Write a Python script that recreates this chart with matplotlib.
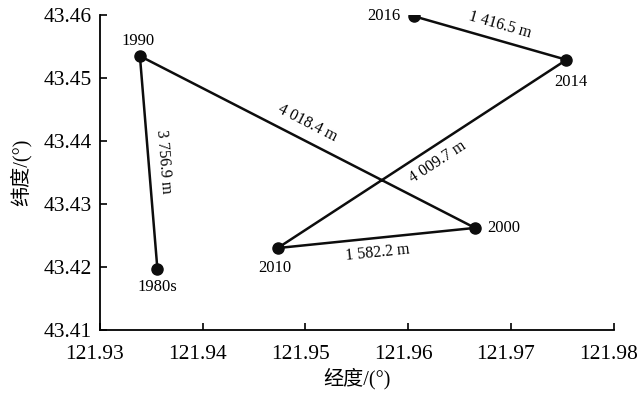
import numpy as np
import matplotlib
matplotlib.use("Agg")
import matplotlib.pyplot as plt
from matplotlib.transforms import ScaledTranslation

plt.rcParams['font.family'] = ['Liberation Serif', 'Noto Sans CJK SC']

# centre positions by period
years = ["1980s", "1990", "2000", "2010", "2014", "2016"]
lon = [121.9356, 121.9339, 121.9665, 121.9473, 121.9754, 121.9606]
lat = [43.4197, 43.4535, 43.4262, 43.4230, 43.4529, 43.4598]
# distance between consecutive points
dist_labels = ["3 756.9 m", "4 018.4 m", "1 582.2 m", "4 009.7 m", "1 416.5 m"]

fig = plt.figure(figsize=(6.44, 3.97), dpi=100)
ax = fig.add_axes([0.155, 0.169, 0.798, 0.793])

ax.plot(lon, lat, color="#0d0d0d", lw=1.8, marker="o", ms=8,
        mfc="#0d0d0d", mec="#0d0d0d")

ax.set_xlim(121.93, 121.98)
ax.set_ylim(43.41, 43.46)
ax.set_xticks(np.arange(121.93, 121.981, 0.01))
ax.set_yticks(np.arange(43.41, 43.461, 0.01))
ax.xaxis.set_major_formatter(plt.FormatStrFormatter('%.2f'))
ax.yaxis.set_major_formatter(plt.FormatStrFormatter('%.2f'))
ax.tick_params(direction="in", length=5, width=1.2, labelsize=15.5, pad=6)
ax.tick_params(axis="x", pad=11)
ax.spines["top"].set_visible(False)
ax.spines["right"].set_visible(False)
ax.spines["left"].set_linewidth(1.3)
ax.spines["bottom"].set_linewidth(1.3)

# x tick labels sit a little left of their ticks in the original
shift = ScaledTranslation(-5 / 100, 0, fig.dpi_scale_trans)
for lbl in ax.get_xticklabels():
    lbl.set_transform(lbl.get_transform() + shift)

ax.set_xlabel("经度/(°)", fontsize=14.5, labelpad=3)
ax.set_ylabel("纬度/(°)", fontsize=14.5, labelpad=8)

# point labels: offsets in points
pt_offsets = {"1980s": (0, -13), "1990": (-1.5, 11), "2000": (21, 0),
              "2010": (-2, -14.5), "2014": (3, -16), "2016": (-22, 0)}
for name, x, y in zip(years, lon, lat):
    ax.annotate(name, (x, y), xytext=pt_offsets[name], textcoords="offset points",
                ha="center", va="center", fontsize=12)

# distance labels along each segment
fig.canvas.draw()
perp = [11, 12, -11, -11, 11]
along = [0, -6, 0, 6, 4]
for i, lab in enumerate(dist_labels):
    p0 = ax.transData.transform((lon[i], lat[i]))
    p1 = ax.transData.transform((lon[i + 1], lat[i + 1]))
    d = p1 - p0
    ang = np.degrees(np.arctan2(d[1], d[0]))
    if ang > 90:
        ang -= 180
    elif ang < -90:
        ang += 180
    a = np.radians(ang)
    nx, ny = -np.sin(a), np.cos(a)
    tx, ty = np.cos(a), np.sin(a)
    mx = (lon[i] + lon[i + 1]) / 2
    my = (lat[i] + lat[i + 1]) / 2
    ax.annotate(lab, (mx, my),
                xytext=(nx * perp[i] + tx * along[i], ny * perp[i] + ty * along[i]),
                textcoords="offset points", ha="center", va="center",
                rotation=ang, rotation_mode="anchor", fontsize=11.5)

fig.savefig("out.png", dpi=100)
